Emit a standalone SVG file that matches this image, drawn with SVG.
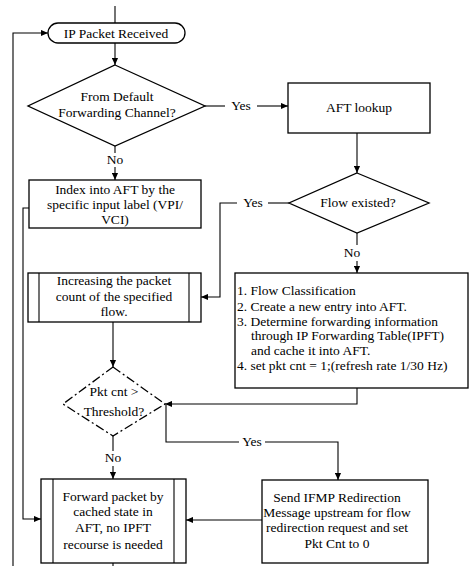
<svg xmlns="http://www.w3.org/2000/svg" width="469" height="566" viewBox="0 0 469 566">
<defs>
<marker id="arr" viewBox="0 0 8 8" refX="8" refY="4" markerWidth="7" markerHeight="7" orient="auto" markerUnits="userSpaceOnUse">
<path d="M0,0.5 L8,4 L0,7.5 Z" fill="#000"/>
</marker>
<style>
.b{fill:#fff;stroke:#000;stroke-width:1.3}
.l{fill:none;stroke:#000;stroke-width:1.1}
.a{fill:none;stroke:#000;stroke-width:1.1;marker-end:url(#arr)}
.t{font-family:"Liberation Serif","Times New Roman",serif;font-size:13.5px;fill:#000;text-anchor:middle}
.s{font-family:"Liberation Serif","Times New Roman",serif;font-size:13.5px;fill:#000}
</style>
</defs>
<rect width="469" height="566" fill="#fff"/>
<g id="connectors">
<path class="l" d="M115,6 L115,23"/>
<path class="a" d="M115,43 L115,65"/>
<path class="l" d="M205,106 L225,106"/>
<path class="a" d="M257,106 L288,106"/>
<path class="l" d="M115,146 L115,153"/>
<path class="a" d="M115,167 L115,180"/>
<path class="a" d="M357,133 L357,173"/>
<path class="l" d="M289,203 L268,203"/>
<path class="a" d="M237,203 L220,203 L220,297 L201,297"/>
<path class="l" d="M357,233 L357,245"/>
<path class="a" d="M357,261 L357,273"/>
<path class="a" d="M29,208 L23,208 L23,519 L41,519"/>
<path class="a" d="M113,322 L113,367"/>
<path class="a" d="M357,388 L357,404 L165,404"/>
<path class="l" d="M166,405 L166,442 L239,442"/>
<path class="a" d="M265,442 L338,442 L338,480"/>
<path class="l" d="M113,436 L113,451"/>
<path class="a" d="M113,466 L113,479"/>
<path class="a" d="M262,520 L186,520"/>
<path class="a" d="M13,566 L13,33 L48,33"/>
<path class="l" d="M113,563 L113,566"/>
<text class="t" x="241" y="110">Yes</text>
<text class="t" x="115" y="164">No</text>
<text class="t" x="253" y="207">Yes</text>
<text class="t" x="352" y="257">No</text>
<text class="t" x="252" y="446">Yes</text>
<text class="t" x="113" y="462">No</text>
</g>
<g id="n-start">
<rect class="b" x="48" y="23" width="137" height="20" rx="10"/>
<text class="t" x="116" y="38">IP Packet Received</text>
</g>
<g id="n-default">
<path class="b" d="M115,65 L205,106 L115,146 L28,106 Z"/>
<text class="t" x="117" y="101">From Default</text>
<text class="t" x="117" y="117">Forwarding Channel?</text>
</g>
<g id="n-aft">
<rect class="b" x="288" y="83" width="142" height="50"/>
<text class="t" x="359" y="112">AFT lookup</text>
</g>
<g id="n-index">
<rect class="b" x="29" y="180" width="172" height="48"/>
<text class="t" x="115" y="194">Index into AFT by the</text>
<text class="t" x="115" y="209">specific input label (VPI/</text>
<text class="t" x="115" y="224">VCI)</text>
</g>
<g id="n-flow">
<path class="b" d="M357,173 L429,203 L357,233 L289,203 Z"/>
<text class="t" x="358" y="207">Flow existed?</text>
</g>
<g id="n-incr">
<rect class="b" x="28" y="273" width="173" height="49"/>
<path class="l" d="M39,273 L39,322 M189,273 L189,322"/>
<text class="t" x="114" y="285">Increasing the packet</text>
<text class="t" x="114" y="301">count of the specified</text>
<text class="t" x="114" y="316">flow.</text>
</g>
<g id="n-classify">
<rect class="b" x="235" y="273" width="233" height="115"/>
<text class="s" x="237" y="295">1. Flow Classification</text>
<text class="s" x="237" y="311">2. Create a new entry into AFT.</text>
<text class="s" x="237" y="326">3. Determine forwarding information</text>
<text class="s" x="251" y="340">through IP Forwarding Table(IPFT)</text>
<text class="s" x="251" y="355">and cache it into AFT.</text>
<text class="s" x="237" y="370">4. set pkt cnt = 1;(refresh rate 1/30 Hz)</text>
</g>
<g id="n-thresh">
<path class="b" d="M113,367 L165,404 L113,436 L63,404 Z" stroke-dasharray="9 3 2 3"/>
<text class="t" x="114" y="396">Pkt cnt &gt;</text>
<text class="t" x="114" y="416">Threshold?</text>
</g>
<g id="n-forward">
<rect class="b" x="41" y="479" width="145" height="84"/>
<path class="l" d="M53,479 L53,563 M174,479 L174,563"/>
<text class="t" x="113" y="501">Forward packet by</text>
<text class="t" x="113" y="516">cached state in</text>
<text class="t" x="113" y="532">AFT, no IPFT</text>
<text class="t" x="113" y="549">recourse is needed</text>
</g>
<g id="n-ifmp">
<rect class="b" x="262" y="480" width="166" height="83"/>
<text class="t" x="337" y="502">Send IFMP Redirection</text>
<text class="t" x="337" y="517">Message upstream for flow</text>
<text class="t" x="337" y="532">redirection request and set</text>
<text class="t" x="337" y="548">Pkt Cnt to 0</text>
</g>
</svg>
